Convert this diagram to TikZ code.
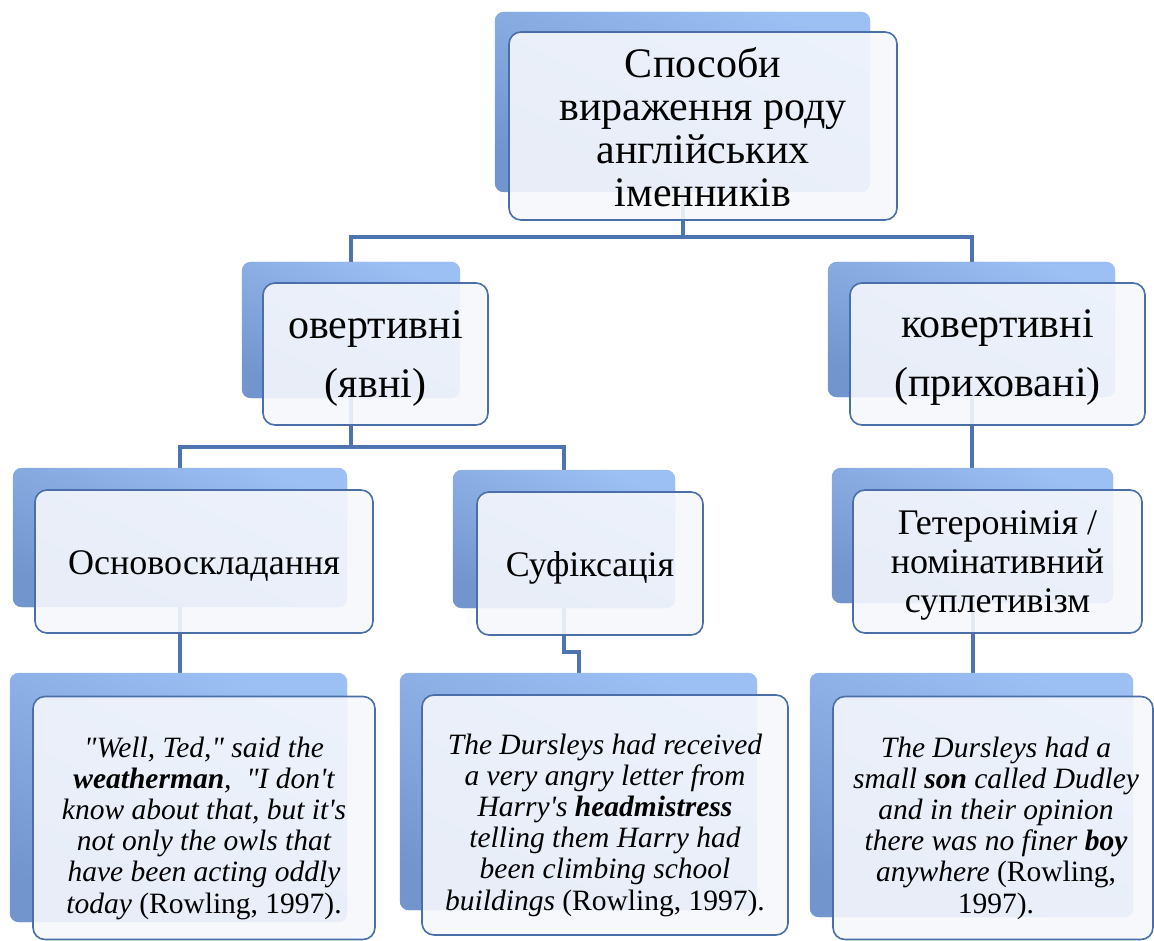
\documentclass[tikz,border=0pt]{standalone}
\usepackage{fontspec}
\setmainfont{Liberation Serif}[Ligatures=TeXOff]
\definecolor{shTop}{HTML}{9CC0F4}
\definecolor{shBot}{HTML}{7295CE}
\definecolor{lineBlue}{HTML}{4A6FA8}
\definecolor{connBlue}{HTML}{4E74B0}
\definecolor{frontFill}{HTML}{F5F7FC}
\begin{document}
\begin{tikzpicture}[x=1pt,y=-1pt,
  shadowbox/.style={rectangle, rounded corners=9pt, top color=shTop, bottom color=shBot, draw=none, inner sep=0pt},
  frontbox/.style={rectangle, rounded corners=12pt, draw=lineBlue, line width=1.6pt, fill=frontFill, fill opacity=0.9, inner sep=0pt},
  label text/.style={inner sep=0pt, align=center, text=black},
  conn/.style={draw=connBlue, line width=4pt},
  toptext/.style={font=\fontsize{42}{43}\selectfont},
  midtext/.style={font=\fontsize{42}{59}\selectfont},
  bigtext/.style={font=\fontsize{36}{43}\selectfont},
  smalltext/.style={font=\fontsize{36}{39}\selectfont},
  quotetext/.style={font=\fontsize{29.5}{31.2}\selectfont}
]
\useasboundingbox (0,0) rectangle (1154,941);

% shadow boxes (named, used for connectors)
\node[shadowbox, minimum width=375pt, minimum height=180pt] (s1) at (682.5,102) {};
\node[shadowbox, minimum width=218pt, minimum height=136pt] (s2) at (351,330) {};
\node[shadowbox, minimum width=287pt, minimum height=135pt] (s3) at (971.5,329.5) {};
\node[shadowbox, minimum width=334pt, minimum height=139pt] (s4) at (180,537.5) {};
\node[shadowbox, minimum width=222pt, minimum height=138pt] (s5) at (564,539) {};
\node[shadowbox, minimum width=281pt, minimum height=135pt] (s6) at (972.5,535.5) {};
\node[shadowbox, minimum width=337pt, minimum height=249pt] (s7) at (178.5,797.5) {};
\node[shadowbox, minimum width=357pt, minimum height=237pt] (s8) at (578.5,791.5) {};
\node[shadowbox, minimum width=323pt, minimum height=244pt] (s9) at (971.5,795) {};

% connectors
\coordinate (b1) at (682.5,237);
\coordinate (b2) at (351,447);
\coordinate (j5) at (570,652);
\draw[conn] (s1.south) -- (s1.south |- b1);
\draw[conn] (s2.north) |- (b1) -| (s3.north);
\draw[conn] (s2.south) -- (s2.south |- b2);
\draw[conn] (s4.north) |- (b2) -| (s5.north);
\draw[conn] (s3.south) -- (s3.south |- s6.north);
\draw[conn] (s4.south) -- (s4.south |- s7.north);
\draw[conn] (s5.south) |- (j5) -| (s8.north);
\draw[conn] (s6.south) -- (s6.south |- s9.north);

% redraw shadow boxes over the connectors
\foreach \s in {s1,s2,s3,s4,s5,s6,s7,s8,s9}{
  \shade[top color=shTop, bottom color=shBot, shading angle=-25, rounded corners=9pt] (\s.north west) rectangle (\s.south east);
}

% front boxes
\node[frontbox, minimum width=388pt, minimum height=188pt] (n1) at (703,126) {};
\node[frontbox, minimum width=225pt, minimum height=142pt] (n2) at (375.5,354) {};
\node[frontbox, minimum width=295pt, minimum height=142pt] (n3) at (997.5,354) {};
\node[frontbox, minimum width=338pt, minimum height=143pt] (n4) at (204,561.5) {};
\node[frontbox, minimum width=226pt, minimum height=143pt] (n5) at (590,563.5) {};
\node[frontbox, minimum width=289pt, minimum height=143pt] (n6) at (997.5,561.5) {};
\node[frontbox, minimum width=342pt, minimum height=243pt] (n7) at (204,818) {};
\node[frontbox, minimum width=366pt, minimum height=240pt] (n8) at (605,815) {};
\node[frontbox, minimum width=320pt, minimum height=243pt] (n9) at (993,818) {};

% texts
\node[label text, toptext] (t1) at ([yshift=-1pt]n1.center)
  {Способи\\вираження роду\\англійських\\іменників};
\node[label text, midtext] (t2) at ([yshift=-5pt]n2.center) {овертивні\\(явні)};
\node[label text, midtext] (t3) at ([yshift=-4pt]n3.center) {ковертивні\\(приховані)};
\node[label text, bigtext] (t4) at ([yshift=-5pt]n4.center) {Основоскладання};
\node[label text, bigtext] (t5) at ([yshift=-4pt]n5.center) {Суфіксація};
\node[label text, smalltext] (t6) at ([yshift=-4pt]n6.center)
  {Гетеронімія /\\номінативний\\суплетивізм};
\node[label text, quotetext] (t7) at ([yshift=-10pt]n7.center)
  {\itshape "Well, Ted," said the\\
   \itshape\bfseries weatherman\mdseries,\ \ "I don't\\
   \itshape know about that, but it's\\
   \itshape not only the owls that\\
   \itshape have been acting oddly\\
   \itshape today \upshape(Rowling, 1997).};
\node[label text, quotetext] (t8) at ([yshift=-10pt]n8.center)
  {\itshape The Dursleys had received\\
   \itshape a very angry letter from\\
   \itshape Harry's \bfseries headmistress\\
   \itshape telling them Harry had\\
   \itshape been climbing school\\
   \itshape buildings \upshape(Rowling, 1997).};
\node[label text, quotetext] (t9) at ([xshift=3pt, yshift=-10pt]n9.center)
  {\itshape The Dursleys had a\\
   \itshape small \textbf{son} called Dudley\\
   \itshape and in their opinion\\
   \itshape there was no finer \textbf{boy}\\
   \itshape anywhere \upshape(Rowling,\\
   1997).};
\end{tikzpicture}
\end{document}
